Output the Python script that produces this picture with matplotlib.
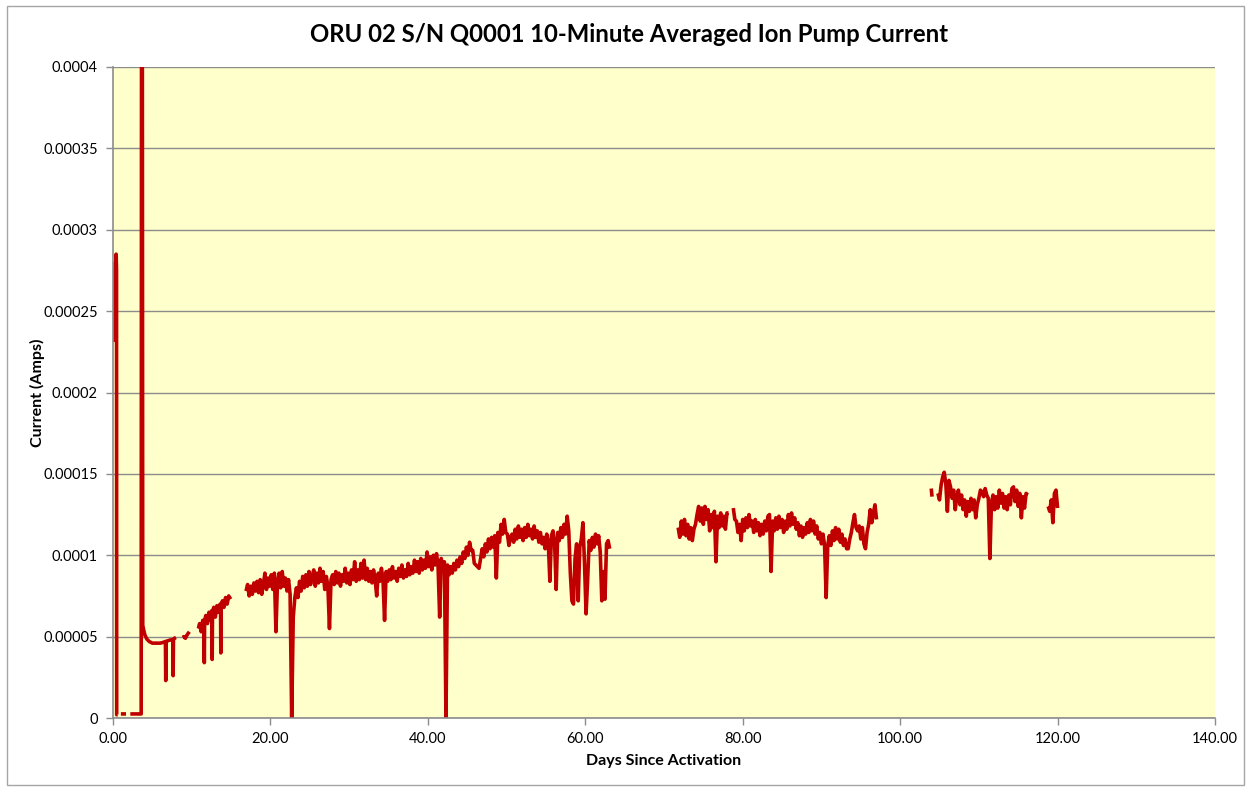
import matplotlib
matplotlib.use("Agg")

import matplotlib.pyplot as plt
import numpy as np
from matplotlib.patches import Rectangle

# current values are written in units of 1e-5 A
UNIT = 1e-5

TITLE = "ORU 02 S/N Q0001 10-Minute Averaged Ion Pump Current"
X_LABEL = "Days Since Activation"
Y_LABEL = "Current (Amps)"

x_ticks = [0, 20, 40, 60, 80, 100, 120, 140]
x_tick_labels = ["0.00", "20.00", "40.00", "60.00", "80.00", "100.00", "120.00", "140.00"]
y_ticks = [0, 5, 10, 15, 20, 25, 30, 35, 40]
y_tick_labels = ["0", "0.00005", "0.0001", "0.00015", "0.0002", "0.00025",
                 "0.0003", "0.00035", "0.0004"]

# --- irregular early segments (days, current) ---
spike_days = [0.00, 0.05, 0.10, 0.15, 0.20, 0.25, 0.30, 0.35, 0.40, 0.45, 0.47, 0.60]
spike_vals = [27.0, 23.2, 26.8, 23.5, 27.5, 24.0, 28.0, 24.5, 28.5, 27.5, 0.2, 0.2]

low_days = [1.00, 1.65]
low_vals = [0.25, 0.25]

restart_days = [2.20, 3.58, 3.64, 3.70, 3.78, 3.90, 4.05, 4.30, 4.60, 5.00, 5.50, 6.00,
                6.40, 6.66, 6.70, 6.74, 7.00, 7.30, 7.60, 7.64, 7.68, 7.80, 8.00]
restart_vals = [0.25, 0.25, 60.0, 60.0, 5.7, 5.4, 5.1, 4.85, 4.7, 4.6, 4.6, 4.6,
                4.65, 4.7, 2.3, 4.7, 4.75, 4.8, 4.8, 2.6, 4.85, 4.9, 4.95]

short_days = [8.85, 9.00, 9.20, 9.40, 9.55, 9.70]
short_vals = [4.95, 5.0, 4.9, 5.1, 5.2, 5.3]

rise_days = [10.85, 11.0, 11.2, 11.4, 11.56, 11.60, 11.64, 11.8, 12.0, 12.2, 12.4,
             12.56, 12.60, 12.64, 12.8, 13.0, 13.2, 13.4, 13.6, 13.66, 13.70, 13.74,
             13.9, 14.1, 14.3, 14.5, 14.7, 14.95]
rise_vals = [5.5, 5.8, 5.3, 6.0, 5.8, 3.4, 6.0, 6.3, 5.8, 6.5, 6.0,
             6.6, 3.6, 6.4, 6.8, 6.2, 6.9, 6.5, 7.0, 7.0, 4.0, 6.9,
             7.2, 6.8, 7.4, 7.0, 7.5, 7.3]

# --- 10-minute averaged segments sampled every 0.2 day (start day, values) ---
SAMPLE_STEP = 0.2

run1_start = 16.9
run1_vals = [
    7.8, 8.2, 7.5, 8.1, 7.6, 8.3, 7.8, 8.4, 7.7, 8.5, 7.6, 8.2, 8.9, 7.9, 8.6, 8.1,
    8.8, 7.9, 8.9, 5.3, 8.4, 8.9, 8.0, 9.0, 8.1, 8.6, 7.8, 8.5, 7.6, 0.0, 6.2, 7.4,
    8.0, 7.4, 8.4, 7.8, 8.7, 8.0, 8.8, 8.1, 9.0, 8.2, 8.7, 9.1, 8.1, 8.9, 8.3, 9.2,
    8.4, 9.0, 7.9, 8.7, 8.1, 5.5, 8.5, 8.8, 8.2, 9.0, 8.3, 8.9, 8.1, 8.8, 8.4, 9.2,
    8.3, 8.9, 8.2, 9.1, 8.5, 9.6, 8.4, 9.1, 8.5, 9.5, 8.6, 9.7, 8.5, 9.2, 8.4, 9.0,
    8.3, 9.1, 8.5, 7.5, 8.9, 8.4, 9.2, 8.5, 6.0, 9.0, 8.4, 9.1, 8.5, 9.3, 8.6, 9.0,
    8.4, 9.2, 8.7, 9.4, 8.6, 9.1, 8.7, 9.5, 8.8, 9.3, 8.9, 9.7, 9.0, 9.6, 8.9, 9.8,
    9.1, 9.7, 9.2, 10.2, 9.3, 9.9, 9.1, 10.0, 9.4, 10.1, 9.3, 6.2, 9.8, 9.2, 9.6, 0.0,
    9.4, 8.8, 9.3, 8.9, 9.5, 9.1, 9.7, 9.3, 9.9, 9.5, 10.2, 9.8, 10.5, 10.0, 10.8, 10.3,
    10.3, 9.5, 9.4, 9.3, 9.2, 9.8, 10.4, 9.9, 10.7, 10.2, 11.0, 10.4, 11.1, 10.5, 11.2, 8.6,
    11.4, 10.8, 11.9, 11.3, 12.2, 11.4, 11.3, 10.6, 11.1, 11.3, 10.8, 11.6, 11.0, 11.8, 11.1, 11.6,
    10.9, 11.7, 11.1, 11.9, 11.2, 11.6, 11.0, 11.8, 11.1, 11.5, 10.8, 11.4, 10.7, 11.1, 10.4, 11.3,
    10.8, 8.4, 11.2, 11.5, 10.8, 7.9, 11.4, 10.9, 11.7, 11.1, 11.9, 11.3, 12.4, 11.5, 8.9, 7.2,
    7.0, 9.8, 10.7, 7.2, 10.5, 11.0, 12.0, 9.5, 6.4, 8.5, 10.9, 10.3, 11.1, 10.5, 11.3, 10.7,
    11.2, 10.2, 7.2, 9.0, 7.3, 10.7, 10.9, 10.4,
]

run2_start = 71.8
run2_vals = [
    11.7, 11.1, 12.1, 11.3, 12.2, 11.2, 11.9, 11.0, 11.7, 10.9, 11.6, 11.9, 12.5, 13.0, 12.1, 12.9,
    11.9, 13.0, 12.2, 12.8, 11.5, 12.5, 11.7, 12.7, 9.6, 12.4, 11.7, 12.6, 11.8, 12.4, 11.6, 12.6,
    12.6, np.nan, np.nan, 12.9, 12.2, 12.1, 11.4, 11.9, 10.9, 12.2, 11.5, 12.3, 11.7, 12.5, 11.8, 12.1,
    11.4, 12.2, 11.5, 12.0, 11.2, 11.9, 11.3, 12.1, 11.5, 12.4, 12.5, 9.0, 12.1, 11.5, 12.3, 11.6,
    12.4, 11.7, 12.2, 11.4, 12.1, 11.6, 12.5, 11.8, 12.6, 11.9, 12.3, 11.6, 12.0, 11.2, 11.8, 11.1,
    11.7, 11.3, 12.0, 11.4, 12.2, 11.5, 12.1, 11.3, 11.8, 11.0, 11.4, 10.7, 11.3, 10.6, 7.4, 10.6,
    11.2, 10.6, 11.5, 10.9, 11.7, 11.0, 11.6, 10.8, 11.3, 10.6, 11.0, 10.4, 10.4, 11.0, 11.4, 12.0,
    12.5, 11.7, 11.5, 11.8, 11.0, 11.7, 10.7, 10.4, 11.4, 11.9, 12.8, 12.0, 12.6, 13.1, 12.2,
]

blip_days = [103.95, 104.05]
blip_vals = [14.1, 13.6]

run3_start = 104.8
run3_vals = [
    13.8, 13.4, 14.3, 14.8, 15.1, 14.4, 12.7, 14.6, 14.2, 13.5, 14.0, 12.8, 13.6, 14.0, 13.1, 13.7,
    12.8, 13.4, 12.4, 13.3, 12.7, 13.5, 12.8, 13.4, 12.3, 13.1, 13.5, 14.0, 13.9, 13.6, 14.1, 13.7,
    13.5, 9.8, 13.2, 13.7, 12.8, 13.6, 12.9, 14.0, 13.2, 13.8, 12.9, 13.6, 12.8, 13.7, 13.1, 14.1,
    14.2, 13.3, 14.0, 13.0, 13.8, 12.3, 13.6, 12.9, 13.8, 13.7,
]

run4_start = 118.8
run4_vals = [13.0, 12.7, 13.4, 12.0, 13.8, 14.0, 12.9]


def sampled(start, values):
    return list(start + SAMPLE_STEP * np.arange(len(values))), list(values)


segments = [
    (spike_days, spike_vals),
    (low_days, low_vals),
    (restart_days, restart_vals),
    (short_days, short_vals),
    (rise_days, rise_vals),
    sampled(run1_start, run1_vals),
    sampled(run2_start, run2_vals),
    (blip_days, blip_vals),
    sampled(run3_start, run3_vals),
    sampled(run4_start, run4_vals),
]

days = []
current = []
for seg_days, seg_vals in segments:
    days.extend(seg_days)
    current.extend(seg_vals)
    days.append(np.nan)
    current.append(np.nan)
days = np.array(days, dtype=float)
current = np.array(current, dtype=float) * UNIT

W, H = 1251, 787
fig = plt.figure(figsize=(W / 100, H / 100), dpi=100)
fig.patch.set_facecolor("white")
fig.patches.append(Rectangle((7 / W, 2 / H), 1237 / W, 779 / H, transform=fig.transFigure,
                             fill=False, edgecolor="#a6a6a6", linewidth=1.0))

ax = fig.add_axes([113 / W, 1 - 718 / H, 1102 / W, 651 / H])
ax.set_facecolor("#ffffcc")

ax.plot(days, current, color="#c00000", linewidth=2.6,
        solid_joinstyle="round", solid_capstyle="butt")

ax.set_xlim(0, 140)
ax.set_ylim(0, 0.0004)
ax.set_xticks(x_ticks)
ax.set_xticklabels(x_tick_labels)
ax.set_yticks([v * UNIT for v in y_ticks])
ax.set_yticklabels(y_tick_labels)

grid_color = "#8c8c8c"
ax.yaxis.grid(True, color=grid_color, linewidth=1.0)
ax.set_axisbelow(True)
for side in ["top", "right"]:
    ax.spines[side].set_visible(False)
for side in ["left", "bottom"]:
    ax.spines[side].set_color(grid_color)
    ax.spines[side].set_linewidth(1.2)
ax.tick_params(axis="both", direction="out", length=5, width=1, color=grid_color,
               labelsize=10.5, labelcolor="black")
ax.tick_params(axis="y", pad=6)
ax.tick_params(axis="x", pad=5)
for lbl in ax.get_xticklabels() + ax.get_yticklabels():
    lbl.set_family("Lato")

ax.set_xlabel(X_LABEL, family="Lato", fontweight="bold", fontsize=11.5)
ax.set_ylabel(Y_LABEL, family="Lato", fontweight="bold", fontsize=11.5)
ax.xaxis.set_label_coords(0.5, -0.055)
ax.yaxis.set_label_coords(-0.062, 0.5)

fig.text(629 / W, 1 - 34 / H, TITLE, ha="center", va="center",
         family="Lato", fontweight="bold", fontsize=17.2)

fig.savefig("out.png", dpi=100)
plt.close(fig)
